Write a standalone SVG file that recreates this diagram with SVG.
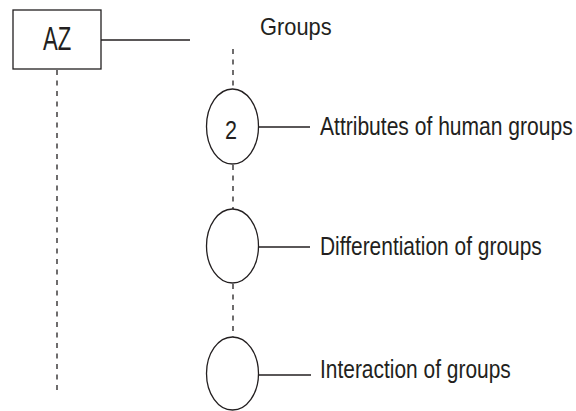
<svg xmlns="http://www.w3.org/2000/svg" width="576" height="411" viewBox="0 0 576 411">
  <style>
    .shape { fill: #ffffff; stroke: #231f20; stroke-width: 1.3; }
    .link { fill: none; stroke: #231f20; stroke-width: 1.3; }
    .dash { fill: none; stroke: #231f20; stroke-width: 1.3; stroke-dasharray: 5 5.5; }
    .lbl { font-family: "Liberation Sans", Arial, sans-serif; fill: #231f20; }
  </style>
  <rect width="576" height="411" fill="#ffffff"/>

  <g id="connectors">
    <line class="link" x1="101" y1="40" x2="190" y2="40"/>
    <line class="dash" x1="57" y1="70" x2="57" y2="392"/>
    <line class="dash" x1="233" y1="49" x2="233" y2="89"/>
    <line class="dash" x1="233" y1="165" x2="233" y2="209"/>
    <line class="dash" x1="233" y1="284" x2="233" y2="337"/>
    <line class="link" x1="258.5" y1="127" x2="310" y2="127"/>
    <line class="link" x1="258.5" y1="247" x2="310" y2="247"/>
    <line class="link" x1="258.5" y1="375" x2="311" y2="375"/>
  </g>

  <!-- labels use a horizontally condensed sans -->
  <g id="node-az">
    <rect class="shape" x="13" y="10" width="88" height="59"/>
    <text class="lbl" transform="translate(43 50) scale(0.65 1)" font-size="34">AZ</text>
  </g>

  <g id="node-groups">
    <text class="lbl" transform="translate(260 35) scale(0.91 1)" font-size="24">Groups</text>
  </g>

  <g id="node-attributes">
    <ellipse class="shape" cx="232.5" cy="126.5" rx="26" ry="37.5"/>
    <text class="lbl" transform="translate(225 139) scale(0.83 1)" font-size="26">2</text>
    <text class="lbl" transform="translate(320 135) scale(0.81 1)" font-size="26">Attributes of human groups</text>
  </g>

  <g id="node-differentiation">
    <ellipse class="shape" cx="232.5" cy="246" rx="26" ry="37"/>
    <text class="lbl" transform="translate(320 255) scale(0.805 1)" font-size="26">Differentiation of groups</text>
  </g>

  <g id="node-interaction">
    <ellipse class="shape" cx="232.5" cy="373.5" rx="26" ry="36.5"/>
    <text class="lbl" transform="translate(320 378) scale(0.805 1)" font-size="26">Interaction of groups</text>
  </g>
</svg>
